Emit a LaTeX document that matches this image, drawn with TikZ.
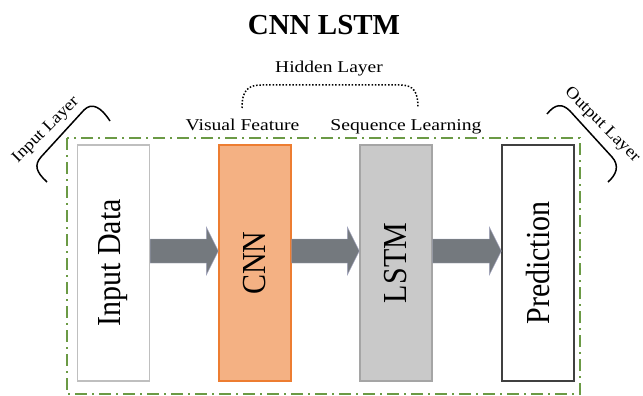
\documentclass[tikz,border=0pt]{standalone}
\usepackage{fontspec}
\setmainfont{Liberation Serif}
\usetikzlibrary{calc}
\definecolor{framegreen}{HTML}{6B9A45}
\definecolor{cnnfill}{HTML}{F4B183}
\definecolor{cnnline}{HTML}{ED7D31}
\definecolor{lstmfill}{HTML}{C9C9C9}
\definecolor{lstmline}{HTML}{A5A5A5}
\definecolor{inpline}{HTML}{BFBFBF}
\definecolor{predline}{HTML}{404040}
\definecolor{arrowgray}{HTML}{74797E}
\begin{document}
\begin{tikzpicture}[x=1pt,y=-1pt,
  layerbox/.style={minimum width=72pt,minimum height=236pt,inner sep=0pt,line width=1.4pt,
    font=\fontsize{30}{34}\selectfont},
  smalltext/.style={inner sep=0pt,font=\fontsize{16.5}{19}\selectfont},
  blockarrow/.style={fill=arrowgray,draw=arrowgray!85!blue!60!white,line width=0.4pt},
  bracket/.style={line width=1.5pt,black}]
\useasboundingbox (0,0) rectangle (643,396);
% frame
\draw[framegreen,line width=1.5pt,dash pattern=on 12pt off 5pt on 2pt off 5pt] (67,138) rectangle (580,394);
% title
\node[anchor=base,inner sep=0pt,font=\fontsize{29}{34}\selectfont\bfseries] (title) at (324,35) {CNN LSTM};
% boxes
\node[layerbox,draw=inpline,fill=white] (inp) at (113.5,263) {\rotatebox{90}{\scalebox{1}[1.12]{Input Data}}};
\node[layerbox,draw=cnnline,fill=cnnfill] (cnn) at (255,263) {\rotatebox{90}{\scalebox{1}[1.12]{CNN}}};
\node[layerbox,draw=lstmline,fill=lstmfill] (lstm) at (396,263) {\rotatebox{90}{\scalebox{1}[1.12]{LSTM}}};
\node[layerbox,draw=predline,fill=white] (pred) at (538,263) {\rotatebox{90}{\scalebox{1}[1.12]{Prediction}}};
% arrows
\foreach \a/\b/\n in {inp/cnn/1,cnn/lstm/2,lstm/pred/3}{
  \coordinate (s\n) at ([yshift=12pt]\a.east);
  \coordinate (t\n) at ([yshift=12pt]\b.west);
  \filldraw[blockarrow] ([yshift=12pt]s\n) -- ([xshift=-12pt,yshift=12pt]t\n) -- ([xshift=-12pt,yshift=24pt]t\n)
    -- (t\n) -- ([xshift=-12pt,yshift=-24pt]t\n) -- ([xshift=-12pt,yshift=-12pt]t\n) -- ([yshift=-12pt]s\n) -- cycle;
}
% labels
\node[smalltext,anchor=base] (hid) at (329,73) {\scalebox{1.18}[1]{Hidden Layer}};
\node[smalltext,anchor=base] (vis) at (242.5,131) {\scalebox{1.19}[1]{Visual Feature}};
\node[smalltext,anchor=base] (seq) at (406,131) {\scalebox{1.19}[1]{Sequence Learning}};
\node[smalltext,rotate=45] (inlay) at (46,130) {\scalebox{1.12}[1]{Input Layer}};
\node[smalltext,rotate=-45] (outlay) at (602,125) {\scalebox{1.12}[1]{Output Layer}};
% hidden layer dotted arc
\coordinate (hl) at (242,108);
\coordinate (hr) at (418,108);
\draw[line width=1.5pt,dash pattern=on 1.5pt off 1.8pt] (hl) .. controls (242,90) and (248,85) .. (262,85) -- (400,85) .. controls (414,85) and (418,92) .. (hr);
% brackets
\coordinate (ib1) at (47,182);
\coordinate (ib2) at (110,121);
\draw[bracket] (ib1) .. controls (36,172) and (34,165) .. (41,157) -- (84,110) .. controls (92,102) and (101,107) .. (ib2);
\coordinate (ob1) at (547,114);
\coordinate (ob2) at (608,182);
\draw[bracket] (ob1) .. controls (555,104) and (562,103) .. (570,111) -- (612,157) .. controls (620,166) and (616,175) .. (ob2);
\end{tikzpicture}
\end{document}
